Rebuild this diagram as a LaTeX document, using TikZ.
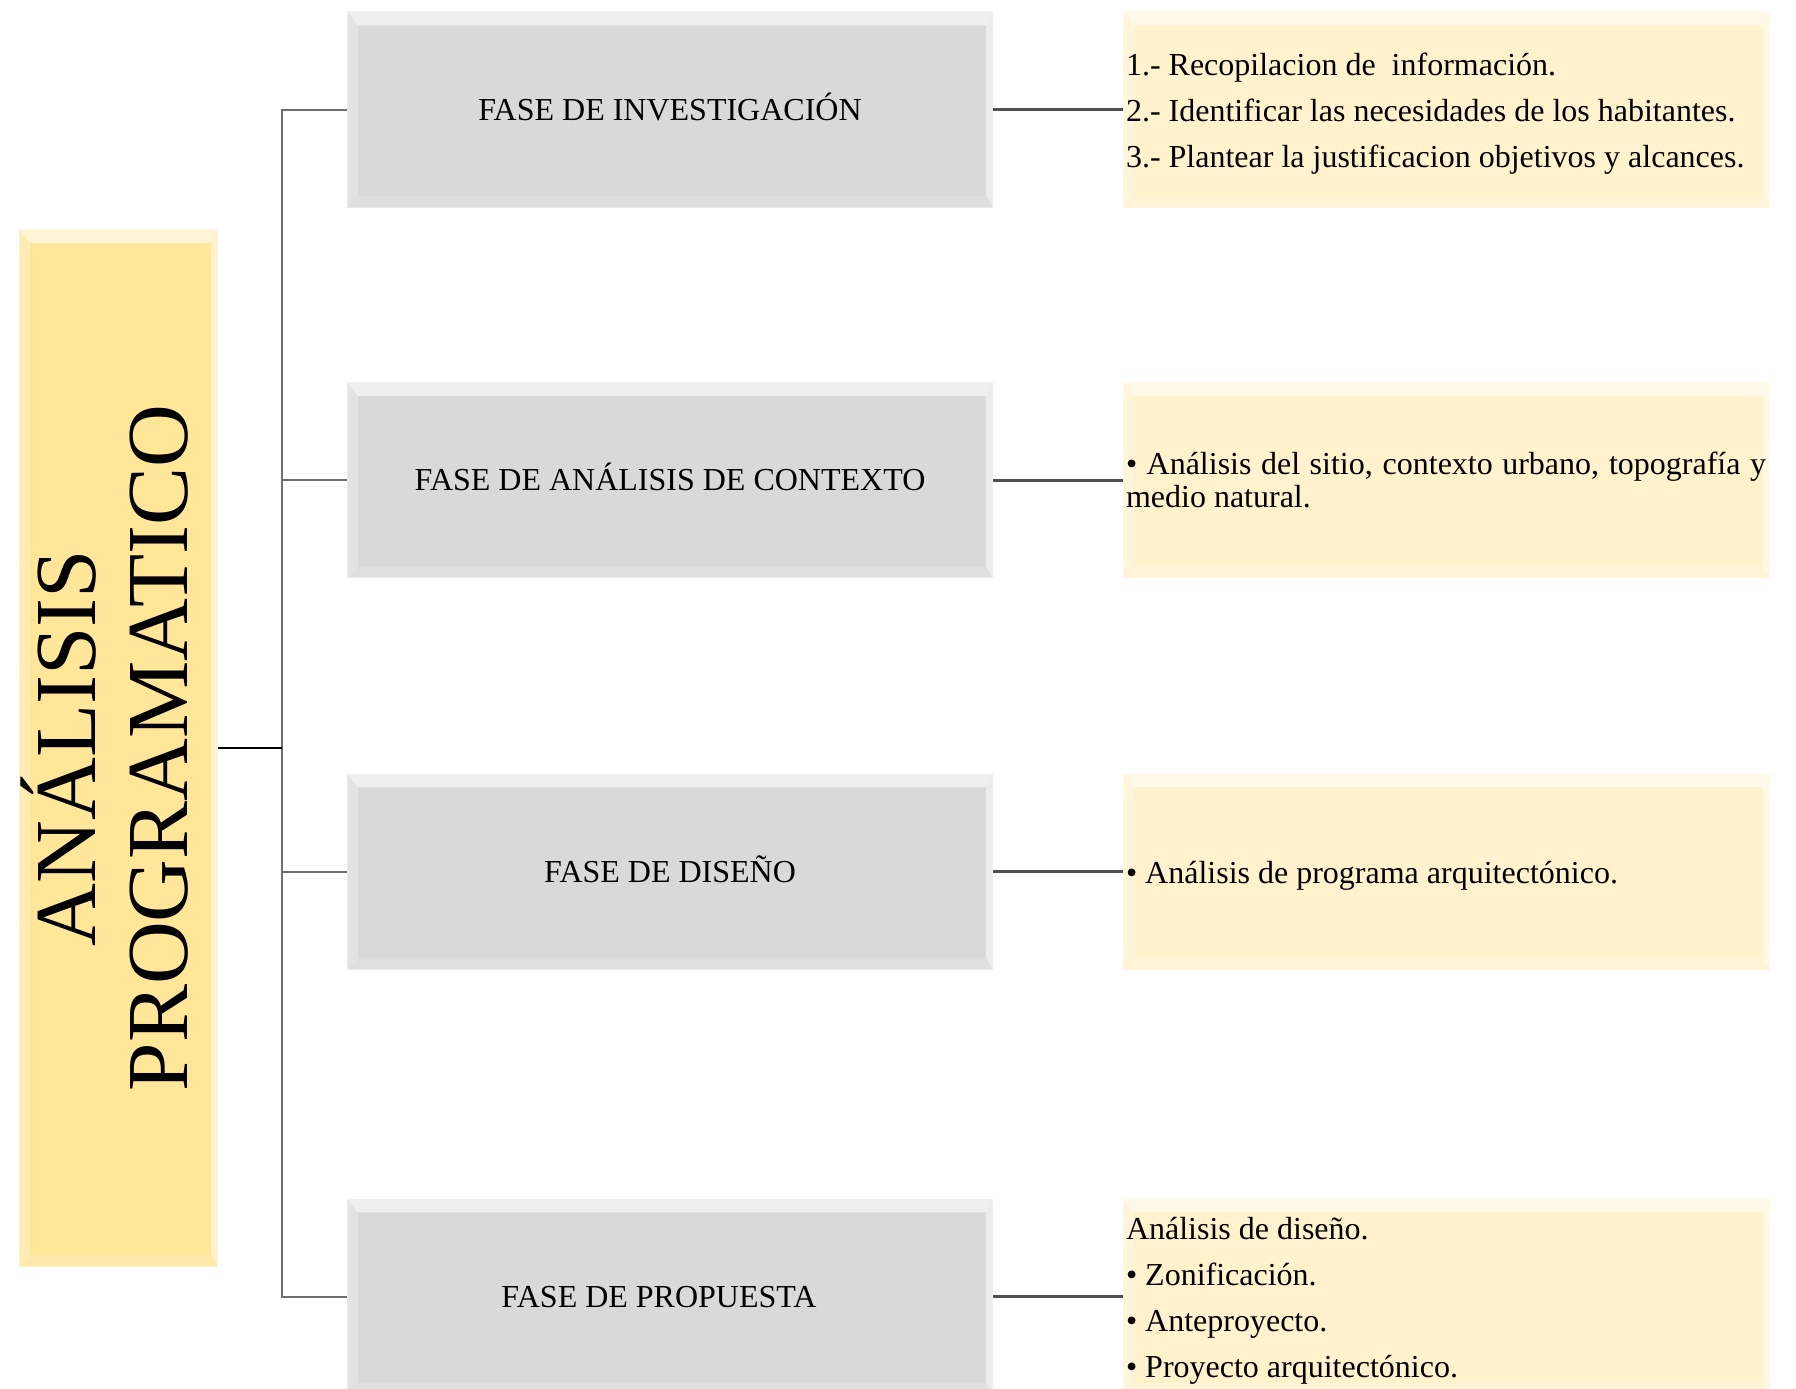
\documentclass[tikz,border=0pt]{standalone}
\usepackage{fontspec}
\setmainfont{Liberation Serif}
\usetikzlibrary{calc}
\definecolor{boxgray}{HTML}{D9D9D9}
\definecolor{gold}{HTML}{FFE699}
\definecolor{cream}{HTML}{FFF2CC}
\definecolor{linegray}{HTML}{6E6E6E}
\definecolor{conngray}{HTML}{505050}
\newcommand\boxbevel[1]{%
  \fill[white,opacity=.6] (#1.north west) -- (#1.north east) -- ($(#1.north east)+(-7,14)$) -- ($(#1.north west)+(11,14)$) -- cycle;
  \fill[white,opacity=.28] (#1.north west) -- ($(#1.north west)+(11,14)$) -- ($(#1.south west)+(11,-12)$) -- (#1.south west) -- cycle;
  \fill[white,opacity=.5] (#1.north east) -- (#1.south east) -- ($(#1.south east)+(-7,-12)$) -- ($(#1.north east)+(-7,14)$) -- cycle;
  \fill[white,opacity=.18] (#1.south west) -- ($(#1.south west)+(11,-12)$) -- ($(#1.south east)+(-7,-12)$) -- (#1.south east) -- cycle;
  \draw[white,opacity=.3,line width=2pt] (#1.north west) rectangle (#1.south east);
}
\tikzset{
  phase/.style={fill=boxgray, minimum width=646pt, minimum height=196pt, inner sep=0pt},
  item/.style={fill=cream, minimum width=647pt, minimum height=196pt, inner sep=0pt},
  rootbox/.style={fill=gold, minimum width=199pt, minimum height=1038pt, inner sep=0pt},
  phasetext/.style={font=\fontsize{32}{38}\selectfont, text height=21pt, text depth=0pt, inner sep=0pt},
  itemtext/.style={font=\fontsize{32}{46}\selectfont, align=left, anchor=west, inner sep=0pt},
  tree/.style={draw=linegray, line width=2pt},
  mainline/.style={draw=black, line width=2.5pt},
  conn/.style={draw=conngray, line width=3pt},
}
\begin{document}
\begin{tikzpicture}[x=1pt,y=-1pt]
\useasboundingbox[fill=white] (0,0) rectangle (1796,1389);
\clip (0,0) rectangle (1796,1389);
% boxes
\node[rootbox] (root) at (118.5,748) {};
\node[phase] (g1) at (670,109.5) {};
\node[phase] (g2) at (670,480) {};
\node[phase] (g3) at (670,871.5) {};
\node[phase] (g4) at (670,1296.5) {};
\node[item] (y1) at (1446.5,109.5) {};
\node[item] (y2) at (1446.5,480) {};
\node[item] (y3) at (1446.5,871.5) {};
\node[item] (y4) at (1446.5,1296.5) {};
\boxbevel{root}
\boxbevel{g1}\boxbevel{g2}\boxbevel{g3}\boxbevel{g4}
\boxbevel{y1}\boxbevel{y2}\boxbevel{y3}\boxbevel{y4}
% connectors
\coordinate (trunk) at (282,748);
\draw[tree] (g1.west) -| (trunk) |- (g4.west);
\draw[tree] (g2.west) -- (g2.west -| trunk);
\draw[tree] (g3.west) -- (g3.west -| trunk);
\draw[mainline] (root.east) -- (trunk);
\draw[conn] (g1.east) -- (y1.west);
\draw[conn] (g2.east) -- (y2.west);
\draw[conn] (g3.east) -- (y3.west);
\draw[conn] (g4.east) -- (y4.west);
% texts
\node[rotate=90, align=center, font=\fontsize{87}{92}\selectfont, inner sep=0pt] (roottext) at (105,748) {ANÁLISIS\\PROGRAMATICO};
\node[phasetext] (t1) at (g1.center) {FASE DE INVESTIGACIÓN};
\node[phasetext] (t2) at (g2.center) {FASE DE ANÁLISIS DE CONTEXTO};
\node[phasetext] (t3) at (g3.center) {FASE DE DISEÑO};
\node[phasetext] (t4) at ([xshift=-11pt]g4.center) {FASE DE PROPUESTA};
\node[itemtext] (r1) at ([xshift=3pt,yshift=-4pt]y1.west) {1.- Recopilacion de\ \ información.\\2.- Identificar las necesidades de los habitantes.\\3.- Plantear la justificacion objetivos y alcances.};
\node[itemtext, font=\fontsize{32}{33.5}\selectfont] (r2) at ([xshift=3pt]y2.west) {\makebox[640pt][s]{• Análisis del sitio, contexto urbano, topografía y}\\medio natural.};
\node[itemtext] (r3) at ([xshift=3pt,yshift=-4pt]y3.west) {• Análisis de programa arquitectónico.};
\node[itemtext] (r4) at ([xshift=3pt,yshift=-4pt]y4.west) {Análisis de diseño.\\• Zonificación.\\• Anteproyecto.\\• Proyecto arquitectónico.};
\end{tikzpicture}
\end{document}
